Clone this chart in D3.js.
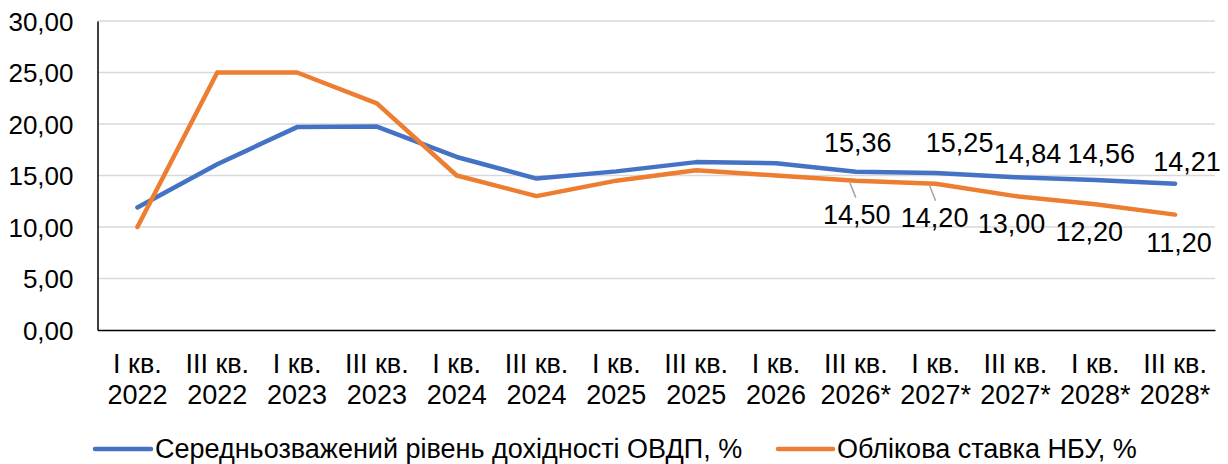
<!DOCTYPE html>
<html lang="uk">

<head>
  <meta charset="UTF-8">
  <title>ОВДП та облікова ставка</title>
  <style>
    body { margin: 0; background: #fff; }
    svg text { font-family: "Liberation Sans", Arial, sans-serif; fill: #000; }
  </style>
</head>

<body>
  <script src="https://cdn.jsdelivr.net/npm/d3@7/dist/d3.min.js"></script>
  <script>

    // дані
    let quarters = ['I кв.', 'III кв.', 'I кв.', 'III кв.', 'I кв.', 'III кв.', 'I кв.', 'III кв.',
      'I кв.', 'III кв.', 'I кв.', 'III кв.', 'I кв.', 'III кв.']
    let years = ['2022', '2022', '2023', '2023', '2024', '2024', '2025', '2025',
      '2026', '2026*', '2027*', '2027*', '2028*', '2028*']
    let ovdp = [11.9, 16.1, 19.7, 19.75, 16.8, 14.7, 15.4, 16.3, 16.2, 15.36, 15.25, 14.84, 14.56, 14.21]
    let nbu = [10, 25, 25, 22, 15, 13, 14.5, 15.5, 15, 14.5, 14.2, 13, 12.2, 11.2]
    let yTicks = [0, 5, 10, 15, 20, 25, 30]
    let seriesNames = ['Середньозважений рівень дохідності ОВДП, %', 'Облікова ставка НБУ, %']

    // підписи показуються лише для прогнозних точок
    let firstLabel = 9
    // зсуви підписів відносно точки (dx, dy до базової лінії)
    let ovdpNudge = [[2, -20], [24, -21], [12, -14], [6, -17], [12, -13]]
    let nbuNudge = [[1, 43], [-1, 43], [-4, 37], [-6, 37], [4, 37]]

    let width = 1228
    let height = 464
    let margin = { left: 97.5, right: 13, top: 21, bottom: 134 }
    let colors = ['#4472C4', '#ED7D31']
    let fontSize = 27

    let svg = d3.select('body')
      .append('svg')
      .attr('width', width)
      .attr('height', height)

    let x = d3.scaleBand()
      .domain(d3.range(quarters.length))
      .range([margin.left, width - margin.right])

    let y = d3.scaleLinear()
      .domain([0, 30])
      .range([height - margin.bottom, margin.top])

    let fmt = d => d.toFixed(2).replace('.', ',')
    let cx = i => x(i) + x.bandwidth() / 2

    // сітка
    svg.append('g')
      .selectAll('line')
      .data(yTicks.filter(d => d > 0))
      .enter()
      .append('line')
      .attr('x1', margin.left)
      .attr('x2', width - margin.right)
      .attr('y1', d => y(d))
      .attr('y2', d => y(d))
      .attr('stroke', '#d9d9d9')
      .attr('stroke-width', 1.5)

    // вісь Y
    let yAxis = d3.axisLeft(y).tickValues(yTicks).tickFormat(fmt).tickSize(0).tickPadding(24)
    svg.append('g')
      .attr('transform', `translate(${margin.left},0)`)
      .call(yAxis)
      .call(g => g.select('.domain').attr('stroke', '#000').attr('stroke-width', 1.5))
      .call(g => g.selectAll('text').attr('font-size', 26).attr('dy', '0.35em'))

    // вісь X
    let xAxis = d3.axisBottom(x).tickSize(0).tickFormat(() => '')
    let xg = svg.append('g')
      .attr('transform', `translate(0,${y(0)})`)
      .call(xAxis)
    xg.select('.domain').attr('stroke', '#000').attr('stroke-width', 1.5)
    xg.selectAll('.tick').each(function (i) {
      let t = d3.select(this).select('text')
        .attr('font-size', fontSize)
        .attr('text-anchor', 'middle')
        .attr('y', 0)
        .attr('dy', null)
      t.append('tspan').attr('x', 0).attr('y', 43).text(quarters[i])
      t.append('tspan').attr('x', 0).attr('y', 74).text(years[i])
    })

    // лінії
    let line = d3.line()
      .x((d, i) => cx(i))
      .y(d => y(d))

    ;[ovdp, nbu].forEach((s, k) => {
      svg.append('path')
        .datum(s)
        .attr('fill', 'none')
        .attr('stroke', colors[k])
        .attr('stroke-width', 4.5)
        .attr('stroke-linejoin', 'round')
        .attr('stroke-linecap', 'round')
        .attr('d', line)
    })

    // підписи даних
    function addLabels(series, nudge, leaders) {
      let idx = d3.range(firstLabel, series.length)
      idx.forEach((i, j) => {
        let px = cx(i), py = y(series[i])
        if (leaders && leaders.includes(i)) {
          svg.append('line')
            .attr('x1', px - 6).attr('y1', py + 2)
            .attr('x2', px).attr('y2', py + 17)
            .attr('stroke', '#a6a6a6')
            .attr('stroke-width', 1.5)
        }
        svg.append('text')
          .attr('x', px + nudge[j][0])
          .attr('y', py + nudge[j][1])
          .attr('text-anchor', 'middle')
          .attr('font-size', fontSize)
          .text(fmt(series[i]))
      })
    }
    addLabels(ovdp, ovdpNudge)
    addLabels(nbu, nbuNudge, [9, 10])

    // легенда
    let legend = [{ x1: 95, x2: 151 }, { x1: 778, x2: 833 }]
    legend.forEach((l, k) => {
      svg.append('line')
        .attr('x1', l.x1).attr('x2', l.x2)
        .attr('y1', 449).attr('y2', 449)
        .attr('stroke', colors[k])
        .attr('stroke-width', 4.5)
        .attr('stroke-linecap', 'round')
      svg.append('text')
        .attr('x', l.x2 + 4)
        .attr('y', 458)
        .attr('font-size', fontSize)
        .text(seriesNames[k])
    })
  </script>
</body>

</html>
